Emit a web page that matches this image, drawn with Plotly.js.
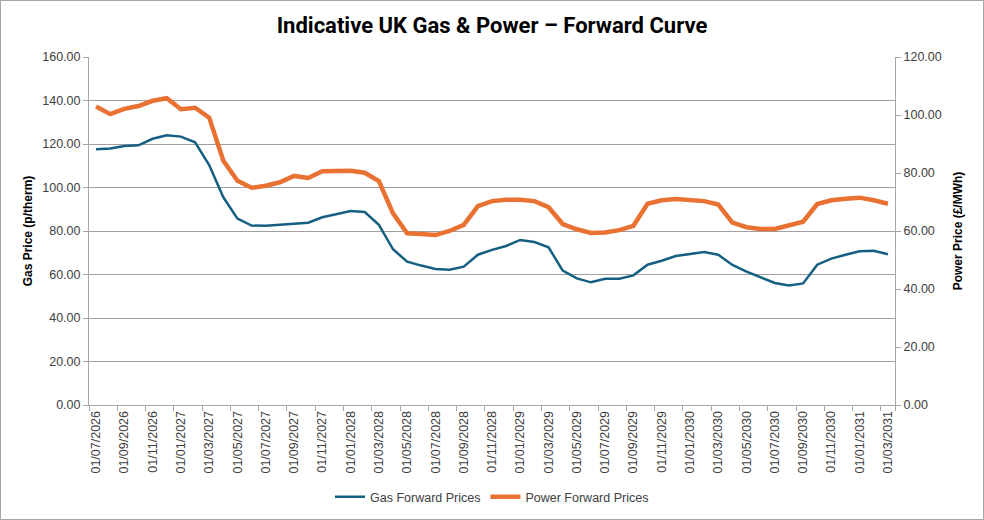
<!DOCTYPE html>
<html>
<head>
<meta charset="utf-8">
<script src="https://cdn.plot.ly/plotly-3.0.1.min.js"></script>
<style>
  html, body { margin: 0; padding: 0; background: #fff; }
  #wrap { position: relative; width: 984px; height: 520px; }
  #chart { width: 984px; height: 520px; }
  #frame { position: absolute; left: 0; top: 0; width: 982px; height: 518px;
           border: 1px solid #a6a6a6; pointer-events: none; }
</style>
</head>
<body>
<div id="wrap">
  <div id="chart"></div>
  <div id="frame"></div>
</div>
<script>
// Monthly delivery dates, 01/07/2026 .. 01/03/2031
const months = [
  "01/07/2026","01/08/2026","01/09/2026","01/10/2026","01/11/2026","01/12/2026",
  "01/01/2027","01/02/2027","01/03/2027","01/04/2027","01/05/2027","01/06/2027",
  "01/07/2027","01/08/2027","01/09/2027","01/10/2027","01/11/2027","01/12/2027",
  "01/01/2028","01/02/2028","01/03/2028","01/04/2028","01/05/2028","01/06/2028",
  "01/07/2028","01/08/2028","01/09/2028","01/10/2028","01/11/2028","01/12/2028",
  "01/01/2029","01/02/2029","01/03/2029","01/04/2029","01/05/2029","01/06/2029",
  "01/07/2029","01/08/2029","01/09/2029","01/10/2029","01/11/2029","01/12/2029",
  "01/01/2030","01/02/2030","01/03/2030","01/04/2030","01/05/2030","01/06/2030",
  "01/07/2030","01/08/2030","01/09/2030","01/10/2030","01/11/2030","01/12/2030",
  "01/01/2031","01/02/2031","01/03/2031"
];

// Gas forward prices (p/therm)
const gasPrices = [
  117.6, 117.9, 119.1, 119.4, 122.4, 124.0,
  123.4, 120.8, 110.3, 95.5, 85.7, 82.5,
  82.4, 82.9, 83.4, 83.8, 86.3, 87.8,
  89.2, 88.7, 82.8, 71.6, 65.9, 64.1,
  62.5, 62.2, 63.6, 69.1, 71.3, 73.1,
  75.9, 74.9, 72.5, 61.8, 58.2, 56.4,
  58.0, 58.1, 59.6, 64.5, 66.3, 68.5,
  69.4, 70.3, 69.1, 64.4, 61.3, 58.7,
  56.1, 55.0, 55.9, 64.5, 67.3, 69.1,
  70.7, 70.9, 69.3
];

// Power forward prices (£/MWh)
const powerPrices = [
  102.9, 100.3, 102.1, 103.1, 104.9, 105.8,
  102.0, 102.5, 99.1, 84.2, 77.3, 74.9,
  75.6, 76.8, 79.0, 78.3, 80.6, 80.6,
  80.8, 80.1, 77.2, 66.1, 59.2, 59.0,
  58.6, 60.0, 62.1, 68.6, 70.3, 70.8,
  70.8, 70.3, 68.2, 62.4, 60.6, 59.3,
  59.5, 60.3, 61.8, 69.4, 70.6, 71.0,
  70.6, 70.3, 69.1, 62.9, 61.3, 60.7,
  60.7, 61.8, 63.2, 69.3, 70.6, 71.1,
  71.5, 70.6, 69.4
];

// Every second month is labelled on the category axis
const labelledMonths = months.filter((m, i) => i % 2 === 0);

const SANS = "Liberation Sans";
const tickFont = { family: SANS, size: 12.5, color: "#404040" };

const traces = [
  {
    x: months, y: gasPrices, name: "Gas Forward Prices",
    type: "scatter", mode: "lines",
    line: { color: "#156082", width: 2.5 },
    yaxis: "y"
  },
  {
    x: months, y: powerPrices, name: "Power Forward Prices",
    type: "scatter", mode: "lines",
    line: { color: "#E97132", width: 4.5 },
    yaxis: "y2"
  }
];

const layout = {
  width: 984, height: 520,
  margin: { l: 89, r: 89, t: 57, b: 115 },
  paper_bgcolor: "#fff", plot_bgcolor: "#fff",
  title: {
    text: "<b>Indicative UK Gas &amp; Power – Forward Curve</b>",
    x: 0.5, xanchor: "center", y: 0.952, yanchor: "middle",
    font: { family: "Roboto", size: 22, color: "#000" }
  },
  showlegend: true,
  legend: {
    orientation: "h",
    xref: "container", yref: "container",
    x: 0.5, xanchor: "center", y: 0.044, yanchor: "middle",
    font: { family: SANS, size: 12.5, color: "#404040" },
    itemwidth: 30, tracegroupgap: 0
  },
  xaxis: {
    type: "category", automargin: false,
    range: [-0.5, months.length - 0.5],
    tickmode: "array", tickvals: labelledMonths, ticktext: labelledMonths,
    tickson: "boundaries",
    tickangle: -90,
    ticks: "outside", ticklen: 5, tickcolor: "#a6a6a6",
    showline: true, linecolor: "#a6a6a6", linewidth: 1,
    showgrid: false, zeroline: false,
    tickfont: tickFont
  },
  yaxis: {
    automargin: false,
    range: [0, 160], dtick: 20, tickformat: ".2f",
    ticks: "outside", ticklen: 5, tickcolor: "#a6a6a6",
    showline: true, linecolor: "#a6a6a6", linewidth: 1,
    showgrid: true, gridcolor: "#a0a0a0", gridwidth: 1,
    zeroline: false,
    tickfont: tickFont,
    title: {
      text: "<b>Gas Price (p/therm)</b>", standoff: 7,
      font: { family: SANS, size: 12, color: "#000" }
    }
  },
  yaxis2: {
    automargin: false,
    overlaying: "y", side: "right",
    range: [0, 120], dtick: 20, tickformat: ".2f",
    ticks: "outside", ticklen: 5, tickcolor: "#a6a6a6",
    showline: true, linecolor: "#a6a6a6", linewidth: 1,
    showgrid: false, zeroline: false,
    tickfont: tickFont,
    title: {
      text: "<b>Power Price (£/MWh)</b>", standoff: 12,
      font: { family: SANS, size: 12, color: "#000" }
    }
  }
};

Plotly.newPlot("chart", traces, layout, { displayModeBar: false, staticPlot: true });
</script>
</body>
</html>
